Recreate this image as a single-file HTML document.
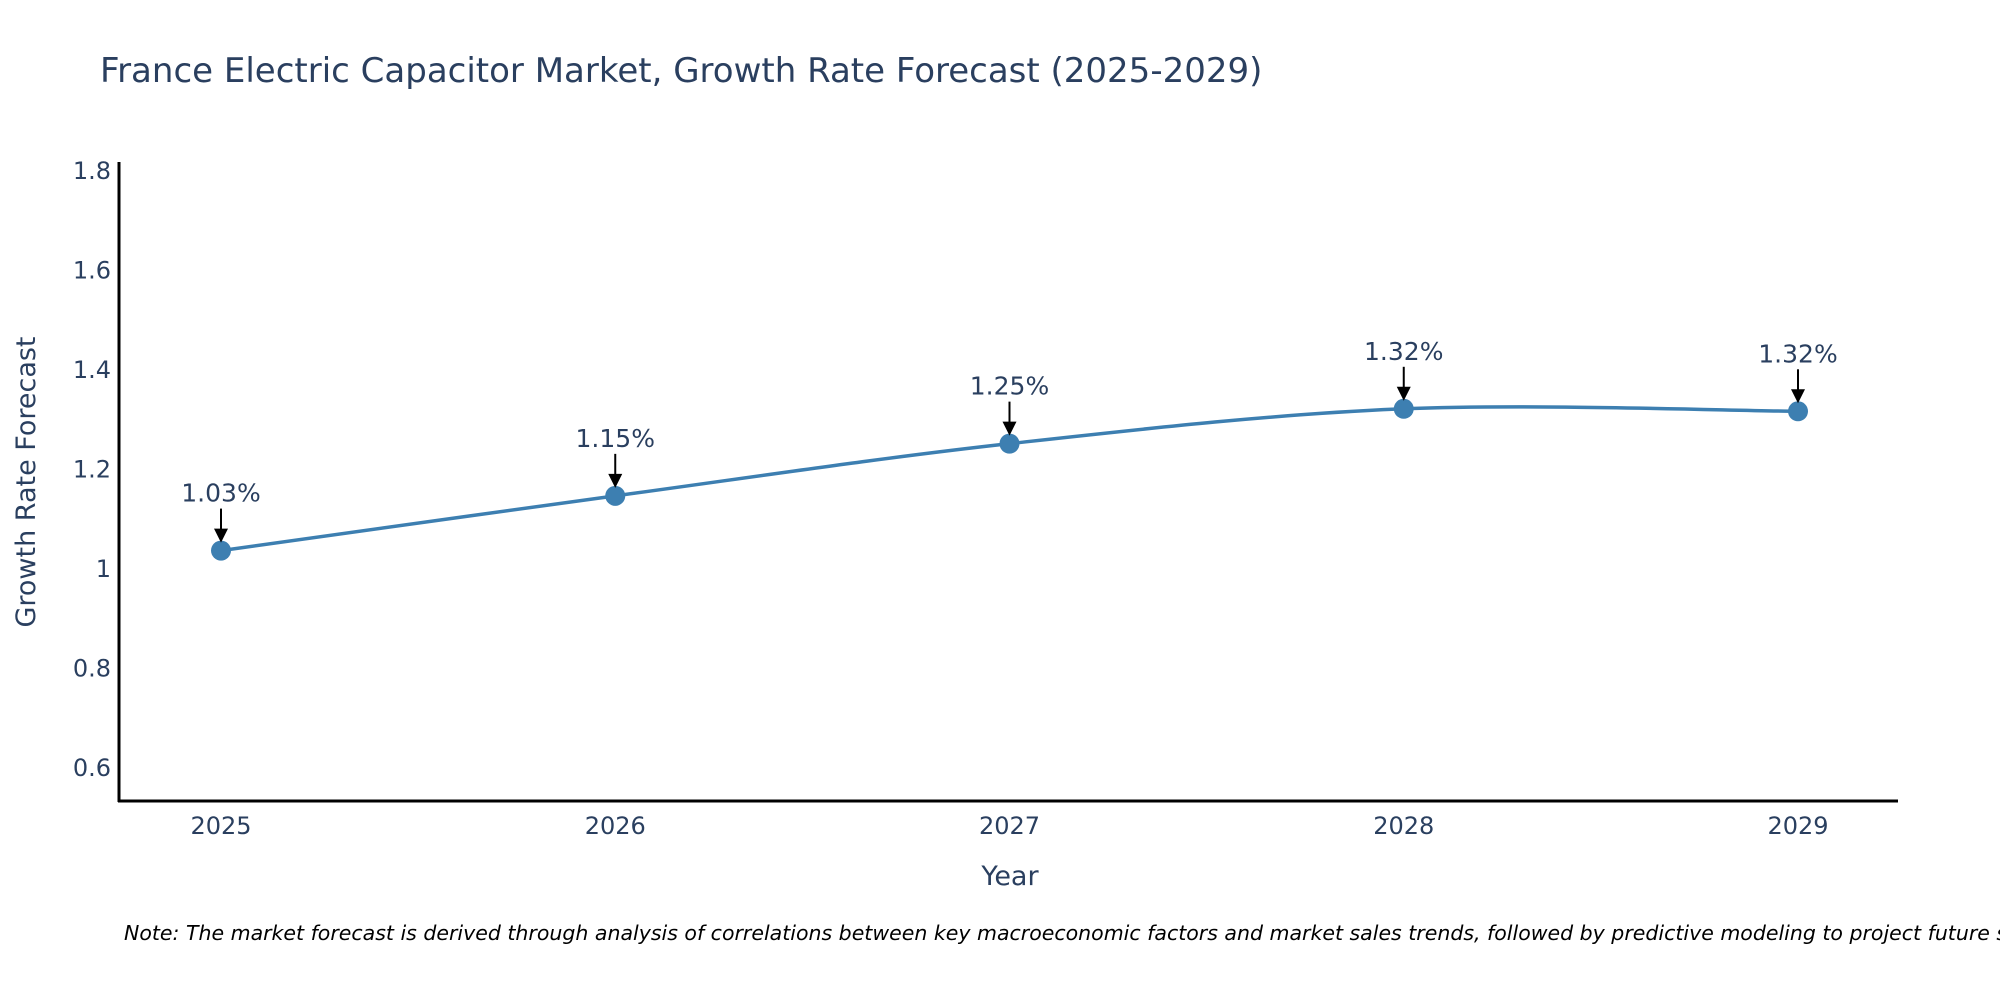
<!DOCTYPE html>
<html><head><meta charset="utf-8"><style>
body{margin:0;background:#fff;font-family:"DejaVu Sans",sans-serif}
svg text{font-family:"DejaVu Sans",sans-serif;fill:#2a3f5f}
</style></head><body>
<svg id="chart" width="2000" height="1000" viewBox="0 0 2000 1000" xmlns="http://www.w3.org/2000/svg">
<text x="100" y="82" font-size="34">France Electric Capacitor Market, Growth Rate Forecast (2025-2029)</text>
<g id="yticks"></g>
<g id="xticks"></g>
<line x1="119" y1="162" x2="119" y2="802" stroke="#000" stroke-width="3"/>
<line x1="118" y1="801" x2="1898" y2="801" stroke="#000" stroke-width="3"/>
<text transform="translate(35,482) rotate(-90)" text-anchor="middle" font-size="27">Growth Rate Forecast</text>
<text x="1010" y="885" text-anchor="middle" font-size="27">Year</text>
<path id="line" fill="none" stroke="#3d7fb1" stroke-width="3.5"/>
<g id="points"></g>
<text x="124" y="940" font-size="20.5" font-style="italic" style="fill:#000">Note: The market forecast is derived through analysis of correlations between key macroeconomic factors and market sales trends, followed by predictive modeling to project future sales.</text>
</svg>
<script>
const years=[2025,2026,2027,2028,2029];
const values=[1.035,1.145,1.25,1.32,1.315];
const labels=["1.03%","1.15%","1.25%","1.32%","1.32%"];
const yTicks=[0.6,0.8,1,1.2,1.4,1.6,1.8];
const yTickLabels=["0.6","0.8","1","1.2","1.4","1.6","1.8"];
const NS="http://www.w3.org/2000/svg";
const x=v=>221+(v-2025)*(1798-221)/4;
const y=v=>767-(v-0.6)*497.5;
function mk(t,a,p){const e=document.createElementNS(NS,t);for(const k in a)e.setAttribute(k,a[k]);p.appendChild(e);return e;}
const yt=document.getElementById('yticks');
yTicks.forEach((v,i)=>{const t=mk('text',{x:111,y:y(v)+9,'text-anchor':'end','font-size':24},yt);t.textContent=yTickLabels[i];

});
const xt=document.getElementById('xticks');
years.forEach(v=>{const t=mk('text',{x:x(v),y:834,'text-anchor':'middle','font-size':24},xt);t.textContent=v;

});
const P=years.map((v,i)=>[x(v),y(values[i])]);
let d=`M${P[0][0]},${P[0][1]}`;
for(let i=0;i<P.length-1;i++){const p0=P[i-1]||P[i],p1=P[i],p2=P[i+1],p3=P[i+2]||P[i+1];const s=6;
d+=` C${p1[0]+(p2[0]-p0[0])/s},${p1[1]+(p2[1]-p0[1])/s} ${p2[0]-(p3[0]-p1[0])/s},${p2[1]-(p3[1]-p1[1])/s} ${p2[0]},${p2[1]}`;}
document.getElementById('line').setAttribute('d',d);
const pg=document.getElementById('points');
P.forEach((p,i)=>{
const c=mk('circle',{cx:p[0],cy:p[1],r:10,fill:'#3d7fb1'},pg);


const l=mk('line',{x1:p[0],y1:p[1]-42,x2:p[0],y2:p[1]-18,stroke:'#000','stroke-width':2},pg);


const h=mk('polygon',{points:`${p[0]-7},${p[1]-22} ${p[0]+7},${p[1]-22} ${p[0]},${p[1]-8}`,fill:'#000'},pg);


const t=mk('text',{x:p[0],y:p[1]-49,'text-anchor':'middle','font-size':25},pg);t.textContent=labels[i];


});
</script>
</body></html>
